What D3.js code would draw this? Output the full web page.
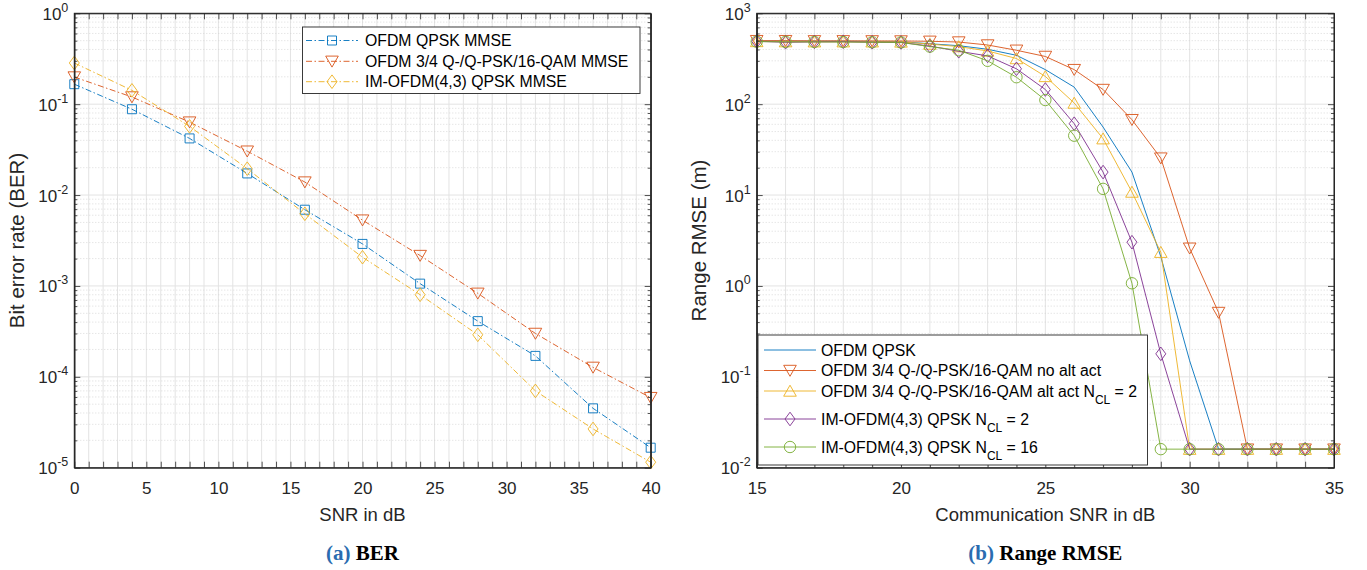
<!DOCTYPE html>
<html><head><meta charset="utf-8">
<script src="https://cdn.jsdelivr.net/npm/d3@7"></script>
<style>
body{margin:0;background:#fff;}
svg{display:block;font-family:"Liberation Sans",Arial,Helvetica,sans-serif;}
</style></head>
<body>
<svg id="chart" width="1367" height="570"></svg>
<script>
// ---------- DATA ----------
const snrBER = [0, 4, 8, 12, 16, 20, 24, 28, 32, 36, 40];
const berOFDM = [0.166, 0.088, 0.042, 0.0173, 0.0069, 0.0029, 0.00106, 4.1e-4, 1.7e-4, 4.5e-5, 1.66e-5];
const berOFDM34 = [0.199, 0.12, 0.0635, 0.0304, 0.0139, 0.0053, 0.00216, 8.3e-4, 3.0e-4, 1.27e-4, 5.9e-5];
const berIM = [0.284, 0.142, 0.057, 0.0195, 0.00622, 0.00207, 8.0e-4, 2.9e-4, 7.0e-5, 2.67e-5, 1.15e-5];
const berNames = ["OFDM QPSK MMSE", "OFDM 3/4 Q-/Q-PSK/16-QAM MMSE", "IM-OFDM(4,3) QPSK MMSE"];

const snrRange = [15, 16, 17, 18, 19, 20, 21, 22, 23, 24, 25, 26, 27, 28, 29, 30, 31, 32, 33, 34, 35];
const rmseOFDM = [495, 494, 493, 492, 490, 487, 462, 440, 402, 345, 240, 154, 56, 17.9, 2.1, 0.15, 0.016, 0.016, 0.016, 0.016, 0.016];
const rmseNoAlt = [500, 500, 498, 498, 497, 496, 492, 483, 448, 392, 335, 240, 145, 67.5, 25.5, 2.6, 0.51, 0.016, 0.016, 0.016, 0.016];
const rmseAlt = [490, 488, 487, 487, 486, 484, 459, 430, 385, 318, 202, 103, 41.7, 10.8, 2.35, 0.016, 0.016, 0.016, 0.016, 0.016, 0.016];
const rmseIM2 = [492, 480, 485, 487, 480, 478, 436, 382, 340, 245, 145, 61, 17.9, 3.03, 0.179, 0.016, 0.016, 0.016, 0.016, 0.016, 0.016];
const rmseIM16 = [488, 485, 484, 483, 480, 478, 430, 392, 300, 198, 111, 45, 11.7, 1.07, 0.016, 0.016, 0.016, 0.016, 0.016, 0.016, 0.016];
const rmseNames = [
  ["OFDM QPSK"],
  ["OFDM 3/4 Q-/Q-PSK/16-QAM no alt act"],
  ["OFDM 3/4 Q-/Q-PSK/16-QAM alt act N", "CL", " = 2"],
  ["IM-OFDM(4,3) QPSK N", "CL", " = 2"],
  ["IM-OFDM(4,3) QPSK N", "CL", " = 16"]
];

const xTicksBER = [0, 5, 10, 15, 20, 25, 30, 35, 40];
const xTicksRange = [15, 20, 25, 30, 35];

const C = {blue:"#0072BD", red:"#D95319", yellow:"#EDB120", purple:"#7E2F8E", green:"#77AC30"};

// ---------- HELPERS ----------
const svg = d3.select("#chart");
const axisCol = "#262626";
const FS = {tick: 17, tickExp: 12.5, xlab: 18.5, ylab: 20.5, leg: 15.8, legSub: 12, cap: 21};

function markerPath(type) {
  const p = d3.path();
  if (type === "square") { const h = 4.5; p.rect(-h, -h, 2*h, 2*h); }
  else if (type === "tdown") { p.moveTo(-6.3, -5.2); p.lineTo(6.3, -5.2); p.lineTo(0, 5.8); p.closePath(); }
  else if (type === "tup") { p.moveTo(-6.3, 5.2); p.lineTo(6.3, 5.2); p.lineTo(0, -5.8); p.closePath(); }
  else if (type === "diamond") { p.moveTo(0, -6.8); p.lineTo(5, 0); p.lineTo(0, 6.8); p.lineTo(-5, 0); p.closePath(); }
  else if (type === "circle") { p.arc(0, 0, 5.7, 0, 2*Math.PI); }
  return p.toString();
}

function panel(opt) {
  const g = svg.append("g");
  const x = d3.scaleLinear().domain(opt.xDomain).range([opt.left, opt.right]);
  const y = d3.scaleLog().domain(opt.yDomain).range([opt.bottom, opt.top]);
  const grid = g.append("g");
  const xs = d3.range(opt.xDomain[0], opt.xDomain[1] + 0.001, 1);
  xs.forEach(v => {
    grid.append("line").attr("x1", x(v)).attr("x2", x(v)).attr("y1", opt.top).attr("y2", opt.bottom)
      .attr("stroke", "#e3e3e3").attr("stroke-width", 1);
  });
  const e0 = Math.round(Math.log10(opt.yDomain[0])), e1 = Math.round(Math.log10(opt.yDomain[1]));
  const minors = [];
  for (let e = e0; e < e1; e++) for (let m = 2; m <= 9; m++) minors.push(m * Math.pow(10, e));
  const majors = d3.range(e0, e1 + 1).map(e => Math.pow(10, e));
  minors.forEach(v => {
    grid.append("line").attr("x1", opt.left).attr("x2", opt.right).attr("y1", y(v)).attr("y2", y(v))
      .attr("stroke", "#d2d2d2").attr("stroke-width", 0.8).attr("stroke-dasharray", "1,2");
  });
  majors.forEach(v => {
    grid.append("line").attr("x1", opt.left).attr("x2", opt.right).attr("y1", y(v)).attr("y2", y(v))
      .attr("stroke", "#e3e3e3").attr("stroke-width", 1);
  });
  opt.series.forEach(s => {
    const line = d3.line().x((d, i) => x(opt.xs[i])).y(d => y(d));
    g.append("path").datum(s.values).attr("d", line).attr("fill", "none")
      .attr("stroke", s.color).attr("stroke-width", 0.9)
      .attr("stroke-dasharray", s.dash || null);
    if (s.marker) {
      g.selectAll(null).data(s.values).enter().append("path")
        .attr("d", markerPath(s.marker))
        .attr("transform", (d, i) => `translate(${x(opt.xs[i])},${y(d)})`)
        .attr("fill", "none").attr("stroke", s.color).attr("stroke-width", 0.9);
    }
  });
  const axB = d3.axisBottom(x).tickValues(xs).tickSizeInner(-6).tickSizeOuter(0).tickFormat(d => opt.xTicks.includes(d) ? d : "");
  const axT = d3.axisTop(x).tickValues(xs).tickSizeInner(-6).tickSizeOuter(0).tickFormat("");
  const gB = g.append("g").attr("transform", `translate(0,${opt.bottom})`).call(axB);
  g.append("g").attr("transform", `translate(0,${opt.top})`).call(axT);
  g.append("g").attr("transform", `translate(${opt.left},0)`).call(d3.axisLeft(y).tickValues(majors).tickSizeInner(-6).tickSizeOuter(0).tickFormat(""));
  g.append("g").attr("transform", `translate(${opt.left},0)`).call(d3.axisLeft(y).tickValues(minors).tickSizeInner(-3).tickSizeOuter(0).tickFormat(""));
  g.append("g").attr("transform", `translate(${opt.right},0)`).call(d3.axisRight(y).tickValues(majors).tickSizeInner(-6).tickSizeOuter(0).tickFormat(""));
  g.append("g").attr("transform", `translate(${opt.right},0)`).call(d3.axisRight(y).tickValues(minors).tickSizeInner(-3).tickSizeOuter(0).tickFormat(""));
  g.selectAll(".domain").attr("stroke", axisCol).attr("stroke-width", 1);
  g.selectAll(".tick line").attr("stroke", axisCol).attr("stroke-width", 0.8);
  gB.selectAll(".tick text").attr("fill", axisCol).attr("font-size", FS.tick)
    .attr("font-family", "Liberation Sans, Arial, sans-serif").attr("dy", 0).attr("y", 26);
  majors.forEach(v => {
    const e = Math.round(Math.log10(v));
    const t = g.append("text").attr("x", opt.left - 6).attr("y", y(v) + 6.5).attr("text-anchor", "end")
      .attr("fill", axisCol).attr("font-size", FS.tick);
    t.append("tspan").text("10");
    t.append("tspan").attr("dy", -8).attr("font-size", FS.tickExp).text(e);
  });
  g.append("rect").attr("x", opt.left).attr("y", opt.top).attr("width", opt.right - opt.left).attr("height", opt.bottom - opt.top)
    .attr("fill", "none").attr("stroke", axisCol).attr("stroke-width", 1);
  g.append("text").attr("x", (opt.left + opt.right) / 2).attr("y", 521).attr("text-anchor", "middle")
    .attr("font-size", FS.xlab).attr("fill", axisCol).text(opt.xLabel);
  g.append("text").attr("transform", `translate(${opt.yLabelX},${(opt.top + opt.bottom) / 2}) rotate(-90)`)
    .attr("text-anchor", "middle").attr("font-size", FS.ylab).attr("fill", axisCol).text(opt.yLabel);
  const cap = g.append("text").attr("x", (opt.left + opt.right) / 2).attr("y", 560).attr("text-anchor", "middle")
    .attr("font-family", "Liberation Serif, Times New Roman, serif").attr("font-weight", "bold").attr("font-size", FS.cap);
  cap.append("tspan").attr("fill", "#2a6cb0").text(opt.capA);
  cap.append("tspan").attr("fill", "#000").text(" " + opt.capB);
  return {g, x, y};
}

// ---------- LEFT PANEL ----------
panel({
  left: 74.3, right: 650.7, top: 13.3, bottom: 467.7,
  xDomain: [0, 40], yDomain: [1e-5, 1], xs: snrBER, xTicks: xTicksBER,
  xLabel: "SNR in dB", yLabel: "Bit error rate (BER)", yLabelX: 24,
  capA: "(a)", capB: "BER",
  series: [
    {values: berOFDM, color: C.blue, marker: "square", dash: "6,2.5,1.5,2.5"},
    {values: berOFDM34, color: C.red, marker: "tdown", dash: "6,2.5,1.5,2.5"},
    {values: berIM, color: C.yellow, marker: "diamond", dash: "6,2.5,1.5,2.5"}
  ]
});
{
  const lg = svg.append("g");
  lg.append("rect").attr("x", 302.5).attr("y", 27).attr("width", 337.5).attr("height", 66.5)
    .attr("fill", "#fff").attr("stroke", axisCol).attr("stroke-width", 0.9);
  const cols = [C.blue, C.red, C.yellow], mk = ["square", "tdown", "diamond"], ys = [40.5, 61.3, 81.7];
  berNames.forEach((n, i) => {
    lg.append("line").attr("x1", 306).attr("x2", 358).attr("y1", ys[i]).attr("y2", ys[i])
      .attr("stroke", cols[i]).attr("stroke-width", 0.9).attr("stroke-dasharray", "6,2.5,1.5,2.5");
    lg.append("path").attr("d", markerPath(mk[i])).attr("transform", `translate(332,${ys[i]})`)
      .attr("fill", "none").attr("stroke", cols[i]).attr("stroke-width", 0.9);
    lg.append("text").attr("x", 365).attr("y", ys[i] + 5.6).attr("font-size", FS.leg).attr("fill", "#000").text(n);
  });
}

// ---------- RIGHT PANEL ----------
panel({
  left: 756.7, right: 1334, top: 13.3, bottom: 467.7,
  xDomain: [15, 35], yDomain: [1e-2, 1e3], xs: snrRange, xTicks: xTicksRange,
  xLabel: "Communication SNR in dB", yLabel: "Range RMSE (m)", yLabelX: 706,
  capA: "(b)", capB: "Range RMSE",
  series: [
    {values: rmseOFDM, color: C.blue, marker: null},
    {values: rmseNoAlt, color: C.red, marker: "tdown"},
    {values: rmseAlt, color: C.yellow, marker: "tup"},
    {values: rmseIM2, color: C.purple, marker: "diamond"},
    {values: rmseIM16, color: C.green, marker: "circle"}
  ]
});
{
  const lg = svg.append("g");
  lg.append("rect").attr("x", 758).attr("y", 335).attr("width", 389.5).attr("height", 130)
    .attr("fill", "#fff").attr("stroke", axisCol).attr("stroke-width", 0.9);
  const cols = [C.blue, C.red, C.yellow, C.purple, C.green], mk = [null, "tdown", "tup", "diamond", "circle"];
  const ys = [350, 370.5, 391, 419, 447];
  rmseNames.forEach((n, i) => {
    lg.append("line").attr("x1", 764).attr("x2", 816).attr("y1", ys[i]).attr("y2", ys[i])
      .attr("stroke", cols[i]).attr("stroke-width", 0.9);
    if (mk[i]) lg.append("path").attr("d", markerPath(mk[i])).attr("transform", `translate(790,${ys[i]})`)
      .attr("fill", "none").attr("stroke", cols[i]).attr("stroke-width", 0.9);
    const t = lg.append("text").attr("x", 821).attr("y", ys[i] + 5.6).attr("font-size", FS.leg).attr("fill", "#000");
    t.append("tspan").text(n[0]);
    if (n.length > 1) {
      t.append("tspan").attr("dy", 7).attr("font-size", FS.legSub).text(n[1]);
      t.append("tspan").attr("dy", -7).text(n[2]);
    }
  });
}
</script>
</body></html>
